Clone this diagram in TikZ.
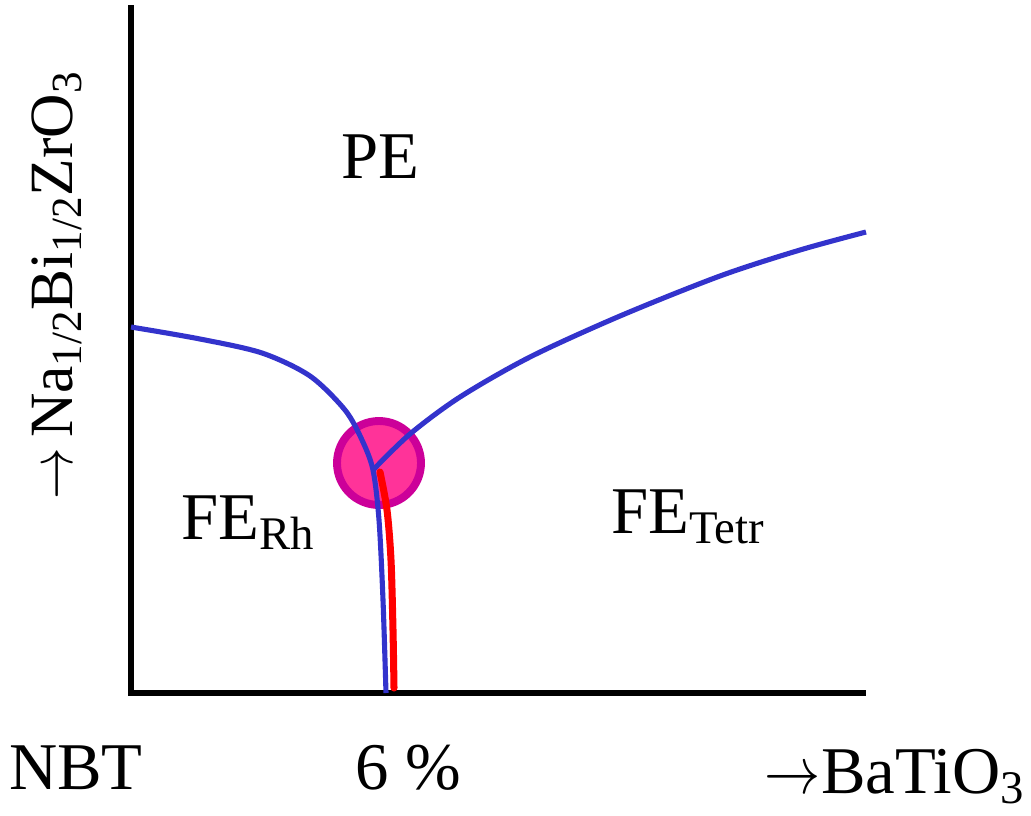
\RequirePackage{fix-cm}
\documentclass[tikz,border=0pt]{standalone}
\usepackage{graphicx}
\usepackage{fontspec}
\setmainfont{Liberation Serif}
\usetikzlibrary{arrows.meta}

\definecolor{phaseblue}{HTML}{3333CC}
\definecolor{mpbpink}{HTML}{FF3399}
\definecolor{mpbrim}{HTML}{CC0099}

\newcommand{\incr}{\scalebox{0.84}[1]{$\rightarrow$}}

\begin{document}
\begin{tikzpicture}[
  x=0.02cm, y=-0.02cm,
  every node/.style={font=\fontsize{38}{42}\selectfont, inner sep=0pt},
  axis/.style={line width=2.9pt, black},
  bound/.style={line width=2.9pt, phaseblue},
  mpb/.style={line width=4.5pt, draw=mpbrim, fill=mpbpink},
  redpath/.style={line width=4pt, red, line cap=round},
]
\useasboundingbox (0,0) rectangle (1031,815);

% axes
\coordinate (origin) at (131,693);
\coordinate (ytop) at (131,5);
\coordinate (xend) at (866,693);
\draw[axis] (ytop) -- (origin) -- (xend);

% morphotropic region
\coordinate (triple) at (373,470);
\node[mpb, circle, minimum size=1.68cm] (mpbzone) at (379,463) {};

% phase boundaries
\draw[bound] plot[smooth] coordinates {(131,327) (200,339) (262,353) (310,376) (345,410) (362,440) (triple) (379,520) (383,600) (386,693)};
\draw[bound] plot[smooth] coordinates {(triple) (410,434) (460,397) (530,357) (620,316) (720,276) (800,250) (866,232)};
\draw[redpath] plot[smooth] coordinates {(380,472) (387,510) (391,560) (393,630) (394,688)};

% labels
\node (pe) at (380,157) {PE};
\node (ferh) at (248,523) {FE\textsubscript{Rh}};
\node (fetetr) at (688,517) {FE\textsubscript{Tetr}};
\node (nbt) at (76,768) {NBT};
\node (pct) at (408,768) {6 \%};
\node[anchor=base east] (bto) at (1025,793) {\incr BaTiO\textsubscript{3}};
\node[rotate=90, anchor=base west, font=\fontsize{35}{40}\selectfont] (nbz) at (72,500) {\incr\,Na\textsubscript{1/2}Bi\textsubscript{1/2}ZrO\textsubscript{3}};
\end{tikzpicture}
\end{document}
